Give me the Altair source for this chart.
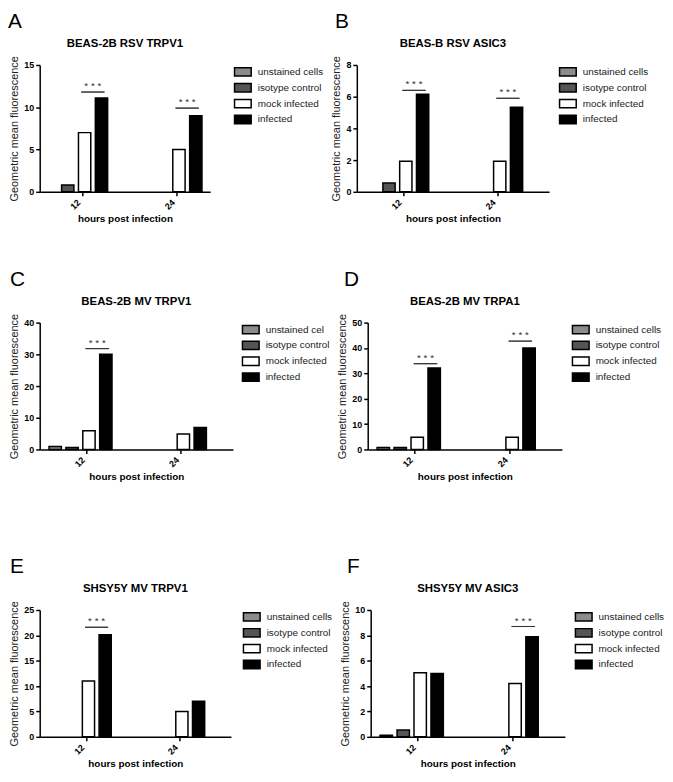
import altair as alt
import pandas as pd

hours = ["12", "24"]
groups = ["unstained cells", "isotype control", "mock infected", "infected"]
fills = ["#8c8c8c", "#555555", "#ffffff", "#000000"]

letters = ["A", "B", "C", "D", "E", "F"]
titles = ["BEAS-2B RSV TRPV1", "BEAS-B RSV ASIC3", "BEAS-2B MV TRPV1",
          "BEAS-2B MV TRPA1", "SHSY5Y MV TRPV1", "SHSY5Y MV ASIC3"]

# values per panel: [unstained, isotype, mock, infected]
a_12 = [None, 0.8, 7.0, 11.1]
a_24 = [None, None, 5.0, 9.0]
a_sig = [11.8, 9.9]
a_ticks = [0, 5, 10, 15]

b_12 = [None, 0.55, 1.93, 6.15]
b_24 = [None, None, 1.93, 5.33]
b_sig = [6.4, 5.9]
b_ticks = [0, 2, 4, 6, 8]

c_12 = [0.9, 0.6, 5.9, 30.0]
c_24 = [None, None, 4.9, 6.9]
c_sig = [31.8, None]
c_ticks = [0, 10, 20, 30, 40]

d_12 = [0.8, 0.8, 4.8, 32.1]
d_24 = [None, None, 4.8, 40.0]
d_sig = [33.8, 42.7]
d_ticks = [0, 10, 20, 30, 40, 50]

e_12 = [None, None, 11.0, 20.1]
e_24 = [None, None, 5.0, 7.0]
e_sig = [21.6, None]
e_ticks = [0, 5, 10, 15, 20, 25]

f_12 = [0.13, 0.53, 5.06, 4.99]
f_24 = [None, None, 4.2, 7.9]
f_sig = [None, 8.7]
f_ticks = [0, 2, 4, 6, 8, 10]

NBSP = "\u00a0"
base_expr = "datum.label == 'infected' ? '" + NBSP + "infected' : datum.label"
c_expr = ("datum.label == 'unstained cells' ? 'unstained cel' : (" + base_expr + ")")

XT = "hours post infection"
YT = "Geometric mean fluorescence"


def panel(letter, title, v12, v24, sig, ticks, width, loff, label_expr, letter_x, po, al):
    rows = []
    for h, vals in zip(hours, [v12, v24]):
        for g, v in zip(groups, vals):
            if v is not None:
                rows.append({"hours": h, "group": g, "value": v})
    df = pd.DataFrame(rows)
    srows = [{"hours": h, "pos": "R", "sig": s, "star": "* * *"}
             for h, s in zip(hours, sig) if s is not None]
    sdf = pd.DataFrame(srows)

    xscale = alt.Scale(domain=hours, paddingInner=0.333, paddingOuter=po, align=al)
    xaxis = alt.Axis(title=XT, labelAngle=315, bandPosition=0.6)
    yscale = alt.Scale(domain=[0, ticks[-1]], nice=False)
    yaxis = alt.Axis(title=YT, values=ticks)

    legend = alt.Legend(title=None, orient="right", offset=loff,
                        symbolType="M-1.4,-0.7H1.4V0.7H-1.4Z", symbolSize=144,
                        symbolStrokeColor="black", symbolStrokeWidth=1.5,
                        labelFontSize=10, labelColor="#222222", labelOffset=8,
                        rowPadding=0, padding=0, labelExpr=label_expr)
    bars = alt.Chart(df).mark_bar(stroke="black", strokeWidth=1.5).encode(
        x=alt.X("hours:N", scale=xscale, axis=xaxis),
        xOffset=alt.XOffset("group:N", scale=alt.Scale(domain=groups, paddingInner=0.27, paddingOuter=0)),
        y=alt.Y("value:Q", scale=yscale, axis=yaxis),
        color=alt.Color("group:N", scale=alt.Scale(domain=groups, range=fills), legend=legend),
    )
    soff = alt.XOffset("pos:N", scale=alt.Scale(domain=["L", "R"], paddingInner=0.3, paddingOuter=0.095))
    line = alt.Chart(sdf).mark_bar(fill="#333333", stroke="#333333", strokeWidth=1).encode(
        x=alt.X("hours:N", scale=xscale, axis=xaxis),
        xOffset=soff,
        y=alt.Y("sig:Q", scale=yscale, axis=yaxis),
        y2=alt.Y2("sig"),
    )
    stars = alt.Chart(sdf).mark_text(fontSize=10, baseline="alphabetic", dy=-3, color="#333333").encode(
        x=alt.X("hours:N", scale=xscale, axis=xaxis, bandPosition=0.765),
        y=alt.Y("sig:Q", scale=yscale, axis=yaxis),
        text="star:N",
    )
    head = alt.Chart(pd.DataFrame({"t": [title]})).mark_text(
        fontSize=11.5, fontWeight="bold", align="center", baseline="middle", color="black").encode(
        text="t:N", x=alt.value(width / 2), y=alt.value(-21))
    let = alt.Chart(pd.DataFrame({"t": [letter]})).mark_text(
        fontSize=21, align="left", baseline="middle", color="black").encode(
        text="t:N", x=alt.value(letter_x), y=alt.value(-43))
    return alt.layer(bars, line, stars, head, let).resolve_scale(xOffset="independent").properties(
        width=width, height=128)


pA = panel(letters[0], titles[0], a_12, a_24, a_sig, a_ticks, 172, 26, base_expr, -32, 0.07, 0.38)
pB = panel(letters[1], titles[1], b_12, b_24, b_sig, b_ticks, 194, 12, base_expr, -22, 0.19, 0.26)
pC = panel(letters[2], titles[2], c_12, c_24, c_sig, c_ticks, 195, 11, c_expr, -30, 0.19, 0.26)
pD = panel(letters[3], titles[3], d_12, d_24, d_sig, d_ticks, 196, 12, base_expr, -24, 0.19, 0.26)
pE = panel(letters[4], titles[4], e_12, e_24, e_sig, e_ticks, 193, 14, base_expr, -30, 0.19, 0.26)
pF = panel(letters[5], titles[5], f_12, f_24, f_sig, f_ticks, 196, 12, base_expr, -24, 0.19, 0.26)


def row(a, b):
    return alt.hconcat(a, b, spacing=6).resolve_scale(
        color="independent", xOffset="independent").resolve_legend(color="independent")


top = alt.vconcat(row(pA, pB), row(pC, pD), spacing=45).resolve_scale(
    color="independent", xOffset="independent").resolve_legend(color="independent")
chart = alt.vconcat(top, row(pE, pF), spacing=75).resolve_scale(
    color="independent", xOffset="independent").resolve_legend(color="independent")

chart = chart.configure(font="Liberation Sans", padding=0).configure_view(strokeWidth=0).configure_axis(
    grid=False, domainColor="black", domainWidth=1.5, tickColor="black", tickWidth=1.5, tickSize=4,
    labelFontSize=9, labelFontWeight="bold", labelColor="black", labelPadding=2,
    titleFontSize=10, titleFontWeight="bold", titleColor="black",
).configure_axisY(titlePadding=4, titleFontSize=11, titleFontWeight="normal", titleColor="#222222"
).configure_axisX(titlePadding=3)

chart.save("out.html", embed_options={"renderer": "svg", "actions": False})
